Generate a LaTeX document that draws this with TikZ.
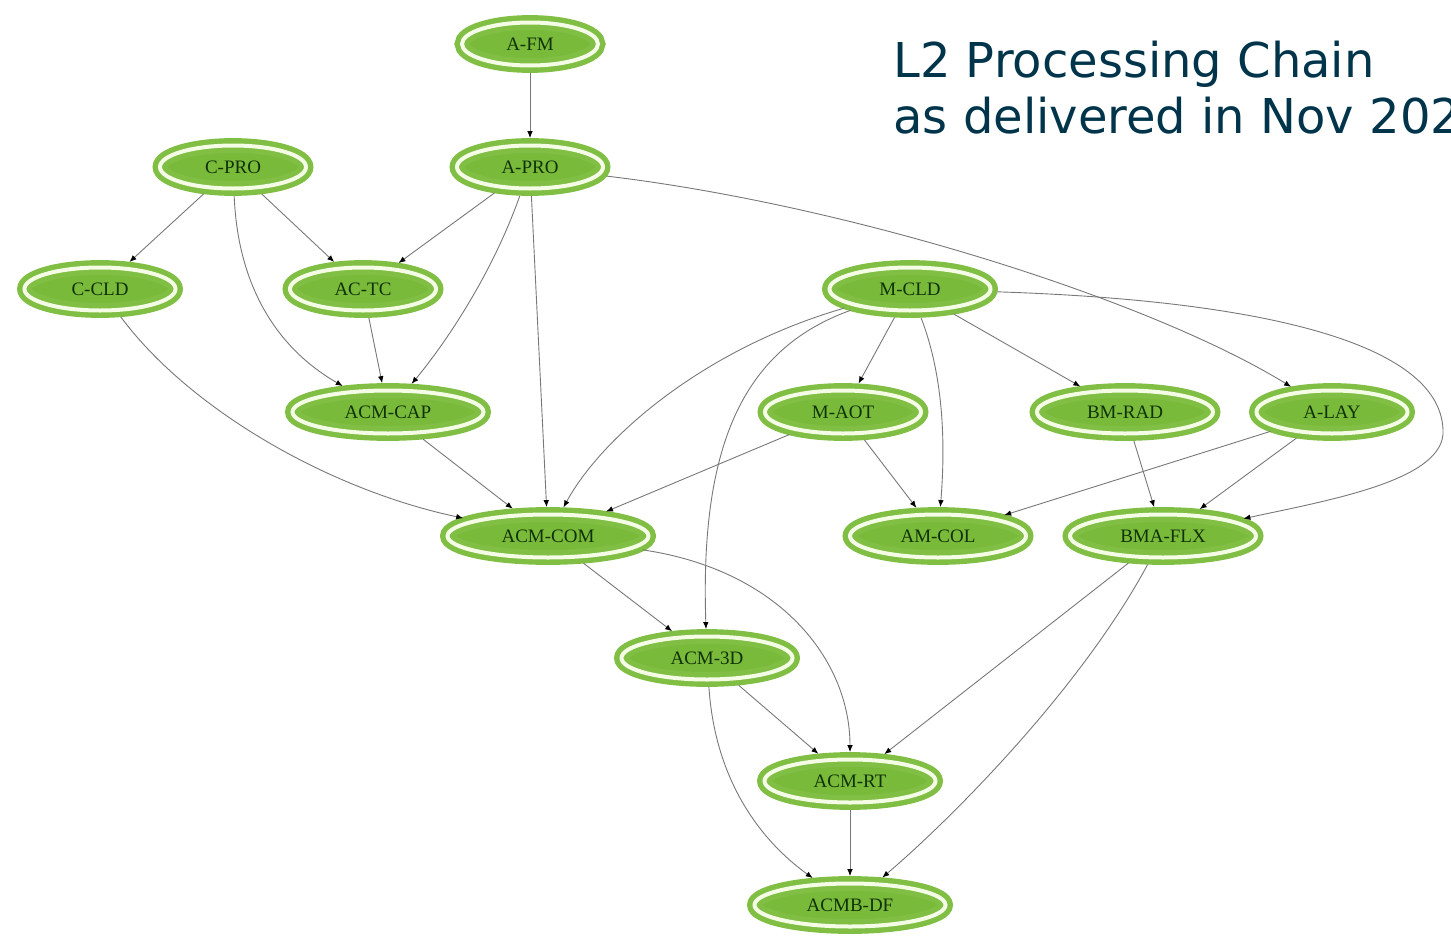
\documentclass[tikz,border=0pt]{standalone}
\usepackage{fontspec}
\setmainfont{Liberation Serif}
\newfontfamily\titlefont{DejaVu Sans}
\usepackage{tikz}
\usetikzlibrary{arrows.meta,shapes.geometric}
\usepackage{xcolor}
\definecolor{chgreen}{RGB}{122,186,58}
\definecolor{chring}{RGB}{128,190,68}
\definecolor{chgap}{RGB}{244,252,230}
\definecolor{chtext}{RGB}{16,50,8}
\definecolor{chline}{RGB}{120,120,120}
\definecolor{chtitle}{RGB}{0,52,74}
\tikzstyle{link} = [-{Latex[length=3.5pt,width=2.8pt,color=black]}, draw=chline, line width=0.45pt]
\tikzstyle{chainnode} = [ellipse, draw=chring, line width=2.7pt, double=chgap, double distance=2pt, fill=chgreen, inner sep=0pt, outer sep=3.7pt, minimum height=21.5pt, text=chtext, font=\fontsize{9.5}{10}\selectfont]
\tikzstyle{titletext} = [anchor=base west, inner sep=0pt, text=chtitle, font=\titlefont\fontsize{24}{28}\selectfont]

\begin{document}
\begin{tikzpicture}[x=0.5pt, y=-0.5pt]
    \useasboundingbox (0,0) rectangle (1451,937);
    \clip (0,0) rectangle (1451,937);

    % Title
    \node[titletext] (titleone) at (893,77) {L2 Processing Chain};
    \node[titletext] (titletwo) at (893,133) {as delivered in Nov 202};

    % Top rows
    \node[chainnode, minimum width=68pt] (afm) at (530,44) {A-FM};
    \node[chainnode, minimum width=73pt] (cpro) at (233,167) {C-PRO};
    \node[chainnode, minimum width=73pt] (apro) at (530,167) {A-PRO};
    \node[chainnode, minimum width=75.5pt] (ccld) at (100,289) {C-CLD};
    \node[chainnode, minimum width=73pt] (actc) at (363,289) {AC-TC};
    \node[chainnode, minimum width=80.5pt] (mcld) at (910,289) {M-CLD};

    % Middle rows
    \node[chainnode, minimum width=95.5pt] (acmcap) at (388,412) {ACM-CAP};
    \node[chainnode, minimum width=78pt] (maot) at (843,412) {M-AOT};
    \node[chainnode, minimum width=88pt] (bmrad) at (1125,412) {BM-RAD};
    \node[chainnode, minimum width=75.5pt] (alay) at (1332,412) {A-LAY};
    \node[chainnode, minimum width=100.5pt] (acmcom) at (548,536) {ACM-COM};
    \node[chainnode, minimum width=88pt] (amcol) at (938,536) {AM-COL};
    \node[chainnode, minimum width=93pt] (bmaflx) at (1163,536) {BMA-FLX};

    % Bottom rows
    \node[chainnode, minimum width=85.5pt] (acm3d) at (707,658) {ACM-3D};
    \node[chainnode, minimum width=85.5pt] (acmrt) at (850,781) {ACM-RT};
    \node[chainnode, minimum width=95.5pt] (acmbdf) at (850,905) {ACMB-DF};

    % Arrows
    \draw[link] (afm) -- (apro);
    \draw[link] (cpro) -- (ccld);
    \draw[link] (cpro) -- (actc);
    \draw[link] (cpro) .. controls (238,290) and (280,350) .. (acmcap);
    \draw[link] (apro) -- (actc);
    \draw[link] (apro) .. controls (490,280) and (440,350) .. (acmcap);
    \draw[link] (apro) -- (acmcom);
    \draw[link] (apro) .. controls (850,205) and (1150,300) .. (alay);
    \draw[link] (ccld) .. controls (190,410) and (330,490) .. (acmcom);
    \draw[link] (actc) -- (acmcap);
    \draw[link] (acmcap) -- (acmcom);
    \draw[link] (mcld) -- (maot);
    \draw[link] (mcld) .. controls (945,380) and (945,450) .. (amcol);
    \draw[link] (mcld) -- (bmrad);
    \draw[link] (mcld) .. controls (700,350) and (600,440) .. (acmcom);
    \draw[link] (mcld) .. controls (740,350) and (700,450) .. (acm3d);
    \draw[link] (mcld) .. controls (1250,300) and (1440,340) .. (1443,430)
        .. controls (1446,480) and (1330,500) .. (bmaflx);
    \draw[link] (maot) -- (acmcom);
    \draw[link] (maot) -- (amcol);
    \draw[link] (alay) -- (amcol);
    \draw[link] (alay) -- (bmaflx);
    \draw[link] (bmrad) -- (bmaflx);
    \draw[link] (acmcom) -- (acm3d);
    \draw[link] (acmcom) .. controls (780,570) and (850,660) .. (acmrt);
    \draw[link] (bmaflx) -- (acmrt);
    \draw[link] (bmaflx) .. controls (1080,690) and (950,820) .. (acmbdf);
    \draw[link] (acm3d) -- (acmrt);
    \draw[link] (acm3d) .. controls (715,780) and (760,840) .. (acmbdf);
    \draw[link] (acmrt) -- (acmbdf);
\end{tikzpicture}
\end{document}
